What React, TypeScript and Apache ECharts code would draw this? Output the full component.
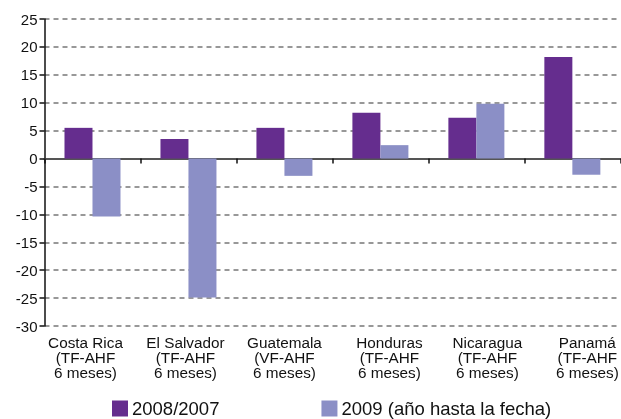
import React, { useEffect, useRef } from "react";
import * as echarts from "echarts";

const categories = [
  "Costa Rica\n(TF-AHF\n6 meses)",
  "El Salvador\n(TF-AHF\n6 meses)",
  "Guatemala\n(VF-AHF\n6 meses)",
  "Honduras\n(TF-AHF\n6 meses)",
  "Nicaragua\n(TF-AHF\n6 meses)",
  "Panamá\n(TF-AHF\n6 meses)",
];
const series2008 = [5.5, 3.5, 5.5, 8.2, 7.3, 18.2];
const series2009 = [-10.4, -24.9, -3.1, 2.4, 9.8, -2.9];
const seriesNames = ["2008/2007", "2009 (año hasta la fecha)"];
// horizontal shift of each category label relative to its category centre
const labelShift = [-7, -3, 0, 9, 11, 15];

const FONT = "'Liberation Sans', Arial, Helvetica, sans-serif";

export default function App() {
  const ref = useRef<HTMLDivElement>(null);
  useEffect(() => {
    document.body.style.margin = "0";
    const chart = echarts.init(ref.current!, undefined, { renderer: "svg" });
    const labelData = categories.map((c, i) => {
      const s = labelShift[i];
      return {
        value: c,
        textStyle: {
          padding: s >= 0 ? [0, 0, 0, 2 * s] : [0, -2 * s, 0, 0],
        },
      };
    });
    chart.setOption({
      animation: false,
      textStyle: { fontFamily: FONT },
      grid: { left: 44.5, right: -9, top: 19, bottom: 93, containLabel: false },
      legend: {
        left: 112,
        top: 399,
        padding: 0,
        itemWidth: 16,
        itemHeight: 16,
        itemGap: 102,
        icon: "rect",
        textStyle: { fontSize: 18.5, color: "#111", fontFamily: FONT, padding: [0, 0, 0, -1] },
        data: seriesNames,
      },
      xAxis: [
        {
          type: "category",
          data: categories,
          axisLine: { onZero: true, lineStyle: { color: "#555", width: 2 } },
          axisTick: { show: true, length: 5, lineStyle: { color: "#111", width: 1.5 } },
          axisLabel: { show: false },
          splitLine: { show: false },
        },
        {
          type: "category",
          data: labelData,
          position: "bottom",
          axisLine: { show: false, onZero: false },
          axisTick: { show: false },
          axisLabel: {
            show: true,
            interval: 0,
            fontSize: 15.3,
            lineHeight: 15,
            color: "#111",
            margin: 9,
            fontFamily: FONT,
          },
        },
      ],
      yAxis: {
        type: "value",
        min: -30,
        max: 25,
        interval: 5,
        axisLine: { show: true, lineStyle: { color: "#111", width: 1.5 } },
        axisTick: { show: true, length: 5, lineStyle: { color: "#111", width: 1.5 } },
        axisLabel: { fontSize: 15, color: "#111", margin: 7, fontFamily: FONT },
        splitLine: {
          show: true,
          lineStyle: { color: "#777", width: 1.5, type: [5, 4] },
        },
      },
      series: [
        {
          name: seriesNames[0],
          type: "bar",
          xAxisIndex: 0,
          data: series2008,
          barWidth: 28,
          barGap: "0%",
          itemStyle: { color: "#652D8E" },
        },
        {
          name: seriesNames[1],
          type: "bar",
          xAxisIndex: 0,
          data: series2009,
          barWidth: 28,
          barGap: "0%",
          itemStyle: { color: "#8B8FC6" },
        },
      ],
    });
    return () => chart.dispose();
  }, []);
  return (
    <div
      ref={ref}
      style={{ position: "fixed", left: 0, top: 0, width: 621, height: 419 }}
    />
  );
}
